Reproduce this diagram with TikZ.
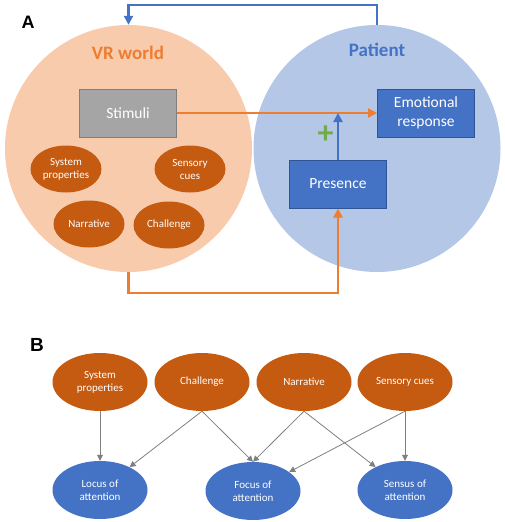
\documentclass[tikz,border=0pt]{standalone}
\usepackage{fontspec}
\setmainfont{Carlito}
\newfontfamily\labelfont{Liberation Sans}
\usetikzlibrary{shapes.geometric,arrows.meta}
\definecolor{peach}{HTML}{F8CBAD}
\definecolor{skyblue}{HTML}{B4C7E7}
\definecolor{orangeline}{HTML}{ED7D31}
\definecolor{bluebox}{HTML}{4472C4}
\definecolor{blueedge}{HTML}{2F5597}
\definecolor{rust}{HTML}{C55A11}
\definecolor{greyfill}{HTML}{A5A5A5}
\definecolor{greyedge}{HTML}{7F7F7F}
\definecolor{plusgreen}{HTML}{70AD47}
\tikzset{
	world/.style = {circle, inner sep=0pt, minimum size=247pt},
	box/.style = {rectangle, draw, line width=1pt, text=white, minimum width=97pt, minimum height=48pt, align=center, font=\fontsize{15.5}{18.5}\selectfont},
	blob/.style = {ellipse, fill=rust, text=white, inner sep=0pt, align=center, font=\fontsize{11}{13}\selectfont},
	factor/.style = {blob, minimum width=71pt, minimum height=47pt},
	cause/.style = {blob, minimum width=95pt, minimum height=58pt},
	attn/.style = {cause, fill=bluebox},
	orangeflow/.style = {draw=orangeline, line width=2.4pt, -{Triangle[length=9pt,width=9pt]}},
	blueflow/.style = {draw=bluebox, line width=2.4pt, -{Triangle[length=9pt,width=9pt]}},
	thin/.style = {draw=greyedge, line width=0.8pt, -{Triangle[length=6pt,width=6pt]}}
}
\begin{document}
\begin{tikzpicture}[x=1pt,y=-1pt]
	\useasboundingbox (0,0) rectangle (505,522);
	% panel A
	\node (A) at (28, 22)	[font=\labelfont\bfseries\fontsize{18}{20}\selectfont]	{A};
	\node (vr) at (128.5, 148.5)	[world, fill = peach]	{};
	\node (pat) at (377, 148.5)	[world, fill = skyblue]	{};
	\node (vrtitle) at (128, 53)	[text = orangeline, font=\bfseries\fontsize{19}{22}\selectfont]	{VR world};
	\node (pattitle) at (377, 50)	[text = bluebox, font=\bfseries\fontsize{19}{22}\selectfont]	{Patient};
	\node (stim) at (128, 113)	[box, fill = greyfill, draw = greyedge]	{Stimuli};
	\node (emo) at (426, 113)	[box, fill = bluebox, draw = blueedge]	{Emotional\\response};
	\node (pres) at (338, 184)	[box, fill = bluebox, draw = blueedge]	{Presence};
	\node (sys) at (66, 169)	[factor]	{System\\properties};
	\node (sens) at (190, 169)	[factor]	{Sensory\\cues};
	\node (narr) at (89, 224)	[factor]	{Narrative};
	\node (chal) at (169, 225)	[factor]	{Challenge};
	\node (plus) at (325.5, 135)	[text = plusgreen, font=\bfseries\fontsize{32}{32}\selectfont, inner sep=0pt]	{+};
	\draw[orangeflow] (stim.east) -- (emo.west);
	\draw[blueflow] (pres.north) -- (pres.north |- stim.east);
	\draw[blueflow] (pat.north) -- ++(0,-20) -| (vr.north);
	\draw[orangeflow] (vr.south) -- ++(0,21) -| (pres.south);
	% panel B
	\node (B) at (37, 345)	[font=\labelfont\bfseries\fontsize{19}{21}\selectfont]	{B};
	\node (sp) at (100, 382)	[cause]	{System\\properties};
	\node (ch) at (202, 382)	[cause]	{Challenge};
	\node (na) at (304, 382)	[cause]	{Narrative};
	\node (sc) at (405, 382)	[cause]	{Sensory cues};
	\node (lo) at (100, 490)	[attn]	{Locus of\\attention};
	\node (fo) at (253, 491)	[attn]	{Focus of\\attention};
	\node (se) at (405, 490)	[attn]	{Sensus of\\attention};
	\draw[thin] (sp.south) -- (lo.north);
	\draw[thin] (ch.south) -- (lo);
	\draw[thin] (ch.south) -- (fo.north);
	\draw[thin] (na.south) -- (fo.north);
	\draw[thin] (na.south) -- (se);
	\draw[thin] (sc.south) -- (fo);
	\draw[thin] (sc.south) -- (se.north);
\end{tikzpicture}
\end{document}
